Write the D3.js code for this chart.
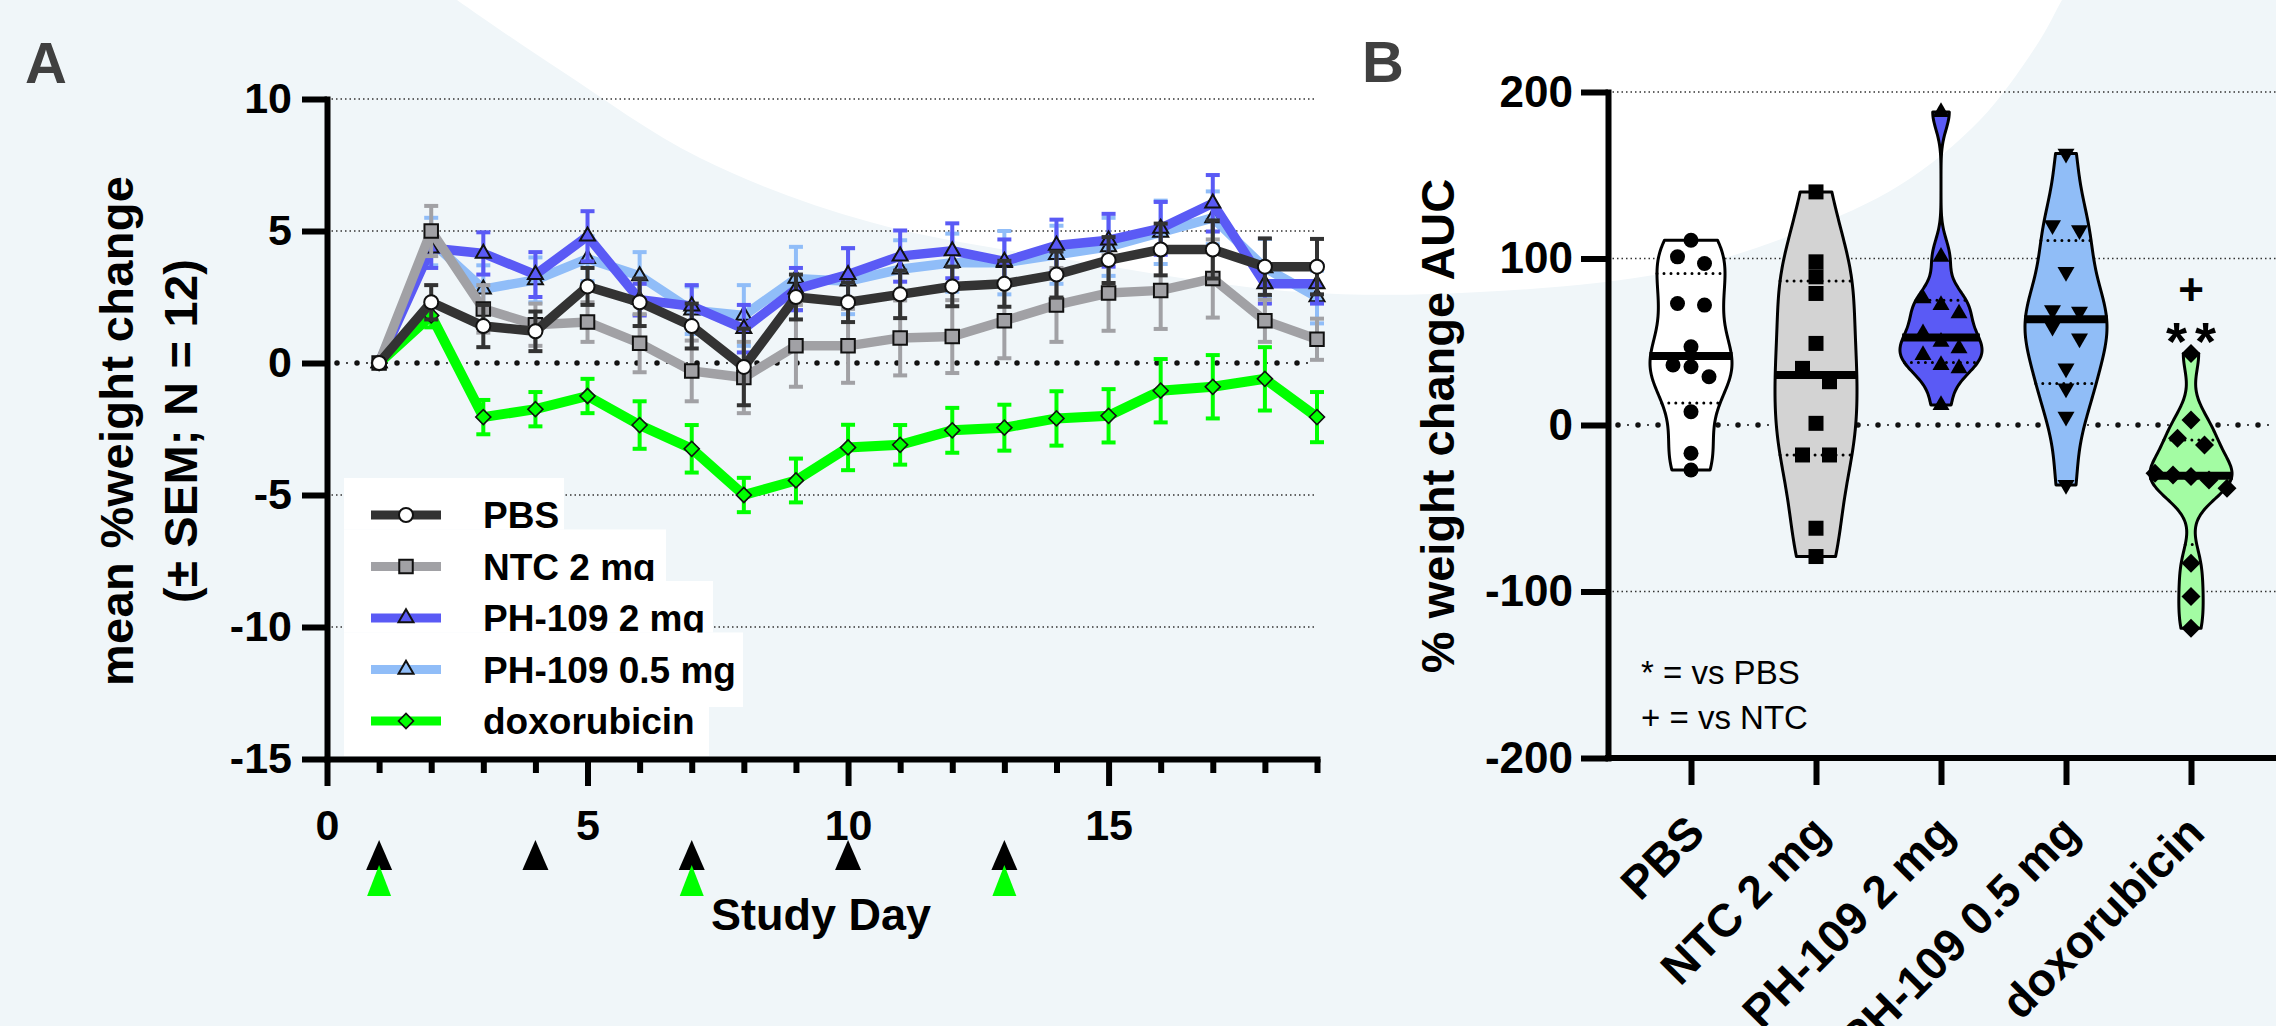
<!DOCTYPE html>
<html>
<head>
<meta charset="utf-8">
<script src="https://cdn.jsdelivr.net/npm/d3@7"></script>
<style>
  html, body { margin: 0; padding: 0; background: #f0f6f9; }
  svg { display: block; }
</style>
</head>
<body>
<svg id="chart" width="2276" height="1026"></svg>
<script>
// ---------- data: panel A (mean % weight change, SEM) ----------
const days = [1, 2, 3, 4, 5, 6, 7, 8, 9, 10, 11, 12, 13, 14, 15, 16, 17, 18, 19];
const pbsMean  = [0, 2.3, 1.4, 1.2, 2.9, 2.3, 1.4, -0.15, 2.5, 2.3, 2.6, 2.9, 3.0, 3.35, 3.9, 4.3, 4.3, 3.65, 3.65];
const pbsSem   = [0, 0.65, 0.8, 0.75, 0.7, 0.9, 0.85, 1.45, 0.85, 0.75, 0.9, 0.75, 0.87, 0.87, 0.87, 0.98, 1.1, 1.07, 1.05];
const ntcMean  = [0, 5.0, 2.05, 1.45, 1.55, 0.75, -0.3, -0.55, 0.65, 0.65, 0.95, 1.0, 1.6, 2.2, 2.65, 2.75, 3.2, 1.6, 0.9];
const ntcSem   = [0, 0.95, 0.9, 0.8, 0.75, 1.1, 1.15, 1.35, 1.55, 1.4, 1.42, 1.38, 1.42, 1.4, 1.43, 1.46, 1.48, 0.8, 0.78];
const ph2Mean  = [0, 4.35, 4.15, 3.35, 4.8, 2.4, 2.15, 1.3, 2.8, 3.35, 4.05, 4.25, 3.85, 4.45, 4.65, 5.1, 6.05, 3.0, 3.0];
const ph2Sem   = [0, 0.75, 0.8, 0.85, 0.95, 0.6, 0.8, 0.9, 0.8, 1.0, 0.97, 1.04, 0.83, 0.98, 1.0, 1.0, 1.07, 0.75, 0.75];
const ph05Mean = [0, 4.6, 2.8, 3.15, 3.95, 3.3, 2.0, 1.8, 3.2, 3.1, 3.55, 3.8, 3.8, 4.1, 4.4, 4.95, 5.5, 3.6, 2.5];
const ph05Sem  = [0, 0.9, 0.9, 0.85, 0.85, 0.9, 0.9, 1.15, 1.2, 1.25, 1.1, 1.1, 1.2, 1.1, 1.1, 1.2, 1.0, 1.1, 1.0];
const doxMean  = [0, 1.8, -2.05, -1.75, -1.25, -2.35, -3.25, -5.0, -4.45, -3.2, -3.1, -2.55, -2.45, -2.1, -2.0, -1.05, -0.9, -0.6, -2.05];
const doxSem   = [0, 0.45, 0.65, 0.65, 0.65, 0.9, 0.9, 0.65, 0.83, 0.86, 0.75, 0.85, 0.87, 1.03, 1.01, 1.2, 1.2, 1.2, 0.95];
const dosingDays = [1, 4, 7, 10, 13];
const doxDosingDays = [1, 7, 13];
const xTicksA = [0, 5, 10, 15];
const yTicksA = [10, 5, 0, -5, -10, -15];

// ---------- data: panel B (% weight change AUC per animal) ----------
const groups = ['PBS', 'NTC 2 mg', 'PH-109 2 mg', 'PH-109 0.5 mg', 'doxorubicin'];
const aucPBS  = [111, 101, 97, 73, 72, 47, 36, 35, 29, 8, -17, -27];
const aucNTC  = [140, 98, 89, 79, 49, 34, 26, 1, -18, -18, -62, -79];
const aucPH2  = [188, 101, 76, 72, 67, 55, 50, 46, 42, 36, 34, 12];
const aucPH05 = [163, 120, 117, 92, 69, 68, 59, 52, 34, 22, 5, -36];
const aucDox  = [43, 3, -8, -12, -29, -30, -31, -33, -38, -83, -103, -122];
const yTicksB = [200, 100, 0, -100, -200];

const FONT = '"Liberation Sans", Arial, Helvetica, sans-serif';
const svg = d3.select('#chart').attr('font-family', FONT);

// background with the white swoosh
svg.append('rect').attr('width', 2276).attr('height', 1026).attr('fill', '#f0f6f9');
const blobPts = [[430, -20], [457, 0], [560, 70], [700, 158], [870, 222], [1083, 262], [1300, 292],
  [1480, 292], [1669, 272], [1800, 232], [1900, 185], [1980, 120], [2040, 40], [2062, 0], [2075, -20]];
svg.append('path')
  .attr('d', d3.line().curve(d3.curveCatmullRom)(blobPts) + 'L2075,-60L430,-60Z')
  .attr('fill', '#ffffff');

function symbolPath(type, s) {
  if (type === 'circle') return d3.symbol(d3.symbolCircle, Math.PI * s * s / 4)();
  if (type === 'square') return d3.symbol(d3.symbolSquare, s * s)();
  if (type === 'diamond') return d3.symbol(d3.symbolSquare, s * s / 2)();
  return d3.symbol(d3.symbolTriangle, Math.sqrt(3) / 4 * s * s)();
}
function symbolRot(type) {
  return type === 'diamond' ? 45 : type === 'triangleDown' ? 180 : 0;
}

function styleAxis(g, fontSize) {
  g.attr('font-family', FONT);
  g.select('.domain').attr('stroke', '#000').attr('stroke-width', 6).attr('stroke-linecap', 'square');
  g.selectAll('.tick line').attr('stroke', '#000').attr('stroke-width', 6);
  g.selectAll('.tick text').attr('fill', '#000').attr('font-size', fontSize).attr('font-weight', 'bold');
}

function gridLine(g, x1, x2, y) {
  g.append('line').attr('x1', x1).attr('x2', x2).attr('y1', y).attr('y2', y)
    .attr('stroke', '#333').attr('stroke-width', 1.5).attr('stroke-dasharray', '1.5,3');
}
function zeroLine(g, x1, x2, y) {
  g.append('line').attr('x1', x1 + 10).attr('x2', x2).attr('y1', y).attr('y2', y)
    .attr('stroke', '#111').attr('stroke-width', 5.5).attr('stroke-linecap', 'round')
    .attr('stroke-dasharray', '0,20');
  g.append('line').attr('x1', x1 + 20).attr('x2', x2).attr('y1', y).attr('y2', y)
    .attr('stroke', '#111').attr('stroke-width', 2).attr('stroke-linecap', 'round')
    .attr('stroke-dasharray', '0,20');
}

// ================= Panel A =================
const xA = d3.scaleLinear().domain([0, 19]).range([327, 1317]);
const yA = d3.scaleLinear().domain([-15, 10]).range([759, 99]);
const gA = svg.append('g');

yTicksA.filter(v => v !== 0 && v !== -15).forEach(v => gridLine(gA, xA(0), xA(19), yA(v)));
zeroLine(gA, xA(0), xA(19), yA(0));

const seriesA = [
  { label: 'doxorubicin',   mean: doxMean,  sem: doxSem,  color: '#00ff00', symbol: 'diamond',  fill: '#00ff00', lw: 10 },
  { label: 'PH-109 0.5 mg', mean: ph05Mean, sem: ph05Sem, color: '#90bdf8', symbol: 'triangle', fill: '#90bdf8', lw: 9.5 },
  { label: 'PH-109 2 mg',   mean: ph2Mean,  sem: ph2Sem,  color: '#5a5af5', symbol: 'triangle', fill: '#5a5af5', lw: 9.5 },
  { label: 'NTC 2 mg',      mean: ntcMean,  sem: ntcSem,  color: '#a1a1a5', symbol: 'square',   fill: '#a1a1a5', lw: 9.5 },
  { label: 'PBS',           mean: pbsMean,  sem: pbsSem,  color: '#333333', symbol: 'circle',   fill: '#ffffff', lw: 9.5 }
];
const markSizeA = { circle: 14, square: 13.5, triangle: 15, diamond: 15 };

seriesA.forEach(s => {
  const g = gA.append('g');
  const pts = days.map((d, i) => ({ d: d, m: s.mean[i], e: s.sem[i] }));
  const bars = pts.filter(p => p.e > 0);
  g.selectAll('line.bar').data(bars).join('line')
    .attr('x1', p => xA(p.d)).attr('x2', p => xA(p.d))
    .attr('y1', p => yA(p.m - p.e)).attr('y2', p => yA(p.m + p.e))
    .attr('stroke', s.color).attr('stroke-width', 4);
  [1, -1].forEach(sign => {
    g.selectAll('line.cap' + sign).data(bars).join('line')
      .attr('x1', p => xA(p.d) - 7).attr('x2', p => xA(p.d) + 7)
      .attr('y1', p => yA(p.m + sign * p.e)).attr('y2', p => yA(p.m + sign * p.e))
      .attr('stroke', s.color).attr('stroke-width', 4);
  });
  g.append('path').datum(pts)
    .attr('d', d3.line().x(p => xA(p.d)).y(p => yA(p.m)))
    .attr('fill', 'none').attr('stroke', s.color).attr('stroke-width', s.lw)
    .attr('stroke-linejoin', 'miter').attr('stroke-miterlimit', 3);
  g.selectAll('path.mk').data(pts).join('path')
    .attr('d', symbolPath(s.symbol, markSizeA[s.symbol]))
    .attr('transform', p => `translate(${xA(p.d)},${yA(p.m)}) rotate(${symbolRot(s.symbol)})`)
    .attr('fill', s.fill).attr('stroke', '#111').attr('stroke-width', s.symbol === 'diamond' ? 1.6 : 2);
});

// axes A
const axAy = gA.append('g').attr('transform', `translate(${xA(0)},0)`)
  .call(d3.axisLeft(yA).tickValues(yTicksA).tickSize(25).tickSizeOuter(0).tickPadding(10).tickFormat(d => String(d)));
styleAxis(axAy, 43);
const minorDays = d3.range(1, 20).filter(d => d % 5 !== 0);
const axAxMinor = gA.append('g').attr('transform', `translate(0,${yA(-15)})`)
  .call(d3.axisBottom(xA).tickValues(minorDays).tickSize(14).tickSizeOuter(0).tickFormat(''));
styleAxis(axAxMinor, 43);
axAxMinor.select('.domain').remove();
const axAx = gA.append('g').attr('transform', `translate(0,${yA(-15)})`)
  .call(d3.axisBottom(xA).tickValues(xTicksA).tickSize(27).tickSizeOuter(0).tickPadding(23).tickFormat(d => String(d)));
styleAxis(axAx, 43);

// dosing arrows
gA.selectAll('path.dose').data(dosingDays).join('path')
  .attr('d', d => `M${xA(d) - 13},870L${xA(d)},840L${xA(d) + 13},870Z`).attr('fill', '#000');
gA.selectAll('path.dosedox').data(doxDosingDays).join('path')
  .attr('d', d => `M${xA(d) - 12},896L${xA(d)},865L${xA(d) + 12},896Z`).attr('fill', '#00ff00');

// axis titles A
gA.append('text').attr('x', 821).attr('y', 930).attr('text-anchor', 'middle')
  .attr('font-size', 45).attr('font-weight', 'bold').text('Study Day');
gA.append('text').attr('transform', 'translate(133,431) rotate(-90)').attr('text-anchor', 'middle')
  .attr('font-size', 47).attr('font-weight', 'bold')
  .attr('textLength', 510).attr('lengthAdjust', 'spacing').text('mean %weight change');
gA.append('text').attr('transform', 'translate(197,431) rotate(-90)').attr('text-anchor', 'middle')
  .attr('font-size', 47).attr('font-weight', 'bold')
  .attr('textLength', 344).attr('lengthAdjust', 'spacing').text('(\u00b1 SEM; N = 12)');
svg.append('text').attr('x', 25).attr('y', 83).attr('font-size', 58).attr('font-weight', 'bold')
  .attr('fill', '#404040').text('A');

// legend
const legendRows = seriesA.slice().reverse();
const legRight = [564, 666, 713, 743, 709];
const legCy = legendRows.map((s, i) => 515 + i * 51.5);
const legTop = legCy.map((c, i) => i < 4 ? c - 37 : 707);
const legG = gA.append('g');
legendRows.forEach((s, i) => {
  const bottom = i < 4 ? legTop[i + 1] : 756;
  legG.append('rect').attr('x', 344).attr('y', legTop[i]).attr('width', legRight[i] - 344)
    .attr('height', bottom - legTop[i]).attr('fill', '#ffffff');
  legG.append('line').attr('x1', 371).attr('x2', 441).attr('y1', legCy[i]).attr('y2', legCy[i])
    .attr('stroke', s.color).attr('stroke-width', 9);
  legG.append('path').attr('d', symbolPath(s.symbol, markSizeA[s.symbol]))
    .attr('transform', `translate(406,${legCy[i]}) rotate(${symbolRot(s.symbol)})`)
    .attr('fill', s.fill).attr('stroke', '#111').attr('stroke-width', s.symbol === 'diamond' ? 1.6 : 2);
  legG.append('text').attr('x', 483).attr('y', legCy[i] + 13).attr('font-size', 37)
    .attr('font-weight', 'bold').text(s.label);
});

// ================= Panel B =================
const aucValues = [aucPBS, aucNTC, aucPH2, aucPH05, aucDox];
const violinFill = ['#ffffff', '#d3d3d3', '#5a5af5', '#90bdf7', '#a3fca3'];
const violinSymbol = ['circle', 'square', 'triangle', 'triangleDown', 'diamond'];
const markSizeB = { circle: 15, square: 15, triangle: 17, triangleDown: 17, diamond: 19 };

const xB = d3.scalePoint().domain(groups).range([1691, 2191]);
const yB = d3.scaleLinear().domain([-200, 200]).range([758, 92]);
const gB = svg.append('g');

[200, 100, -100].forEach(v => gridLine(gB, 1608, 2276, yB(v)));
zeroLine(gB, 1608, 2276, yB(0));

function quart(sorted, p) {
  const pos = p * (sorted.length + 1);
  const lo = Math.floor(pos), fr = pos - lo;
  return sorted[lo - 1] + fr * (sorted[lo] - sorted[lo - 1]);
}

function swarm(vals) {
  const pts = vals.map(v => ({ v: v, y: yB(v) })).sort((a, b) => a.y - b.y);
  const clusters = [];
  pts.forEach(p => {
    const c = clusters[clusters.length - 1];
    if (c && p.y - c[c.length - 1].y < 13.5 && p.y - c[0].y < 20 && c.length < 5) c.push(p);
    else clusters.push([p]);
  });
  clusters.forEach(c => {
    const step = c.length === 2 ? 27 : 18;
    c.forEach((p, i) => { p.dx = (i - (c.length - 1) / 2) * step; });
  });
  return pts;
}

groups.forEach((name, gi) => {
  const vals = aucValues[gi];
  const sorted = vals.slice().sort((a, b) => a - b);
  const n = vals.length;
  const sd = d3.deviation(vals);
  const iqr = d3.quantile(sorted, 0.75) - d3.quantile(sorted, 0.25);
  const h = 0.8 * 0.9 * Math.min(sd, iqr / 1.34) * Math.pow(n, -0.2);
  const dens = v => d3.sum(vals, x => Math.exp(-0.5 * Math.pow((v - x) / h, 2)));
  const lo = sorted[0], hi = sorted[n - 1];
  const samples = d3.range(0, 121).map(i => lo + (hi - lo) * i / 120);
  const maxD = d3.max(samples, dens);
  const half = v => dens(v) / maxD * 41;
  const cx = xB(name);
  const g = gB.append('g');

  g.append('path').datum(samples)
    .attr('d', d3.area().curve(d3.curveCatmullRom)
      .y(v => yB(v)).x0(v => cx - half(v)).x1(v => cx + half(v)))
    .attr('fill', violinFill[gi]).attr('stroke', '#000').attr('stroke-width', 3).attr('stroke-linejoin', 'round');

  [0.25, 0.75].forEach(p => {
    const q = quart(sorted, p);
    g.append('line').attr('x1', cx - half(q)).attr('x2', cx + half(q)).attr('y1', yB(q)).attr('y2', yB(q))
      .attr('stroke', '#000').attr('stroke-width', 3).attr('stroke-linecap', 'round')
      .attr('stroke-dasharray', '0,7');
  });

  const pts = swarm(vals);
  g.selectAll('path.pt').data(pts).join('path')
    .attr('d', symbolPath(violinSymbol[gi], markSizeB[violinSymbol[gi]]))
    .attr('transform', p => `translate(${cx + p.dx},${p.y}) rotate(${symbolRot(violinSymbol[gi])})`)
    .attr('fill', '#000');

  const med = quart(sorted, 0.5);
  g.append('line').attr('x1', cx - half(med) - 1).attr('x2', cx + half(med) + 1).attr('y1', yB(med)).attr('y2', yB(med))
    .attr('stroke', '#000').attr('stroke-width', 8);
});

// axes B
const axBy = gB.append('g').attr('transform', 'translate(1608,0)')
  .call(d3.axisLeft(yB).tickValues(yTicksB).tickSize(27).tickSizeOuter(0).tickPadding(8).tickFormat(d => String(d)));
styleAxis(axBy, 44);
const axBx = gB.append('g').attr('transform', `translate(0,${yB(-200)})`)
  .call(d3.axisBottom(xB).tickSize(27).tickSizeOuter(0));
styleAxis(axBx, 46);
axBx.select('.domain').remove();
axBx.selectAll('.tick text')
  .attr('x', 0).attr('y', 0).attr('dy', '0.35em')
  .attr('text-anchor', 'end')
  .attr('transform', 'translate(4,66) rotate(-45)');
gB.append('line').attr('x1', 1608).attr('x2', 2276).attr('y1', yB(-200)).attr('y2', yB(-200))
  .attr('stroke', '#000').attr('stroke-width', 6).attr('stroke-linecap', 'square');

gB.append('text').attr('transform', 'translate(1454,426) rotate(-90)').attr('text-anchor', 'middle')
  .attr('font-size', 47).attr('font-weight', 'bold').text('% weight change AUC');
svg.append('text').attr('x', 1362).attr('y', 82).attr('font-size', 58).attr('font-weight', 'bold')
  .attr('fill', '#404040').text('B');

// significance marks and key
gB.append('text').attr('x', xB('doxorubicin')).attr('y', 305).attr('text-anchor', 'middle')
  .attr('font-size', 44).attr('font-weight', 'bold').text('+');
gB.append('text').attr('x', xB('doxorubicin') + 4).attr('y', 360).attr('text-anchor', 'middle')
  .attr('font-size', 54).attr('font-weight', 'bold').attr('letter-spacing', 8).text('**');
gB.append('text').attr('x', 1641).attr('y', 684).attr('font-size', 33).text('* = vs PBS');
gB.append('text').attr('x', 1641).attr('y', 729).attr('font-size', 33).text('+ = vs NTC');
</script>
</body>
</html>
